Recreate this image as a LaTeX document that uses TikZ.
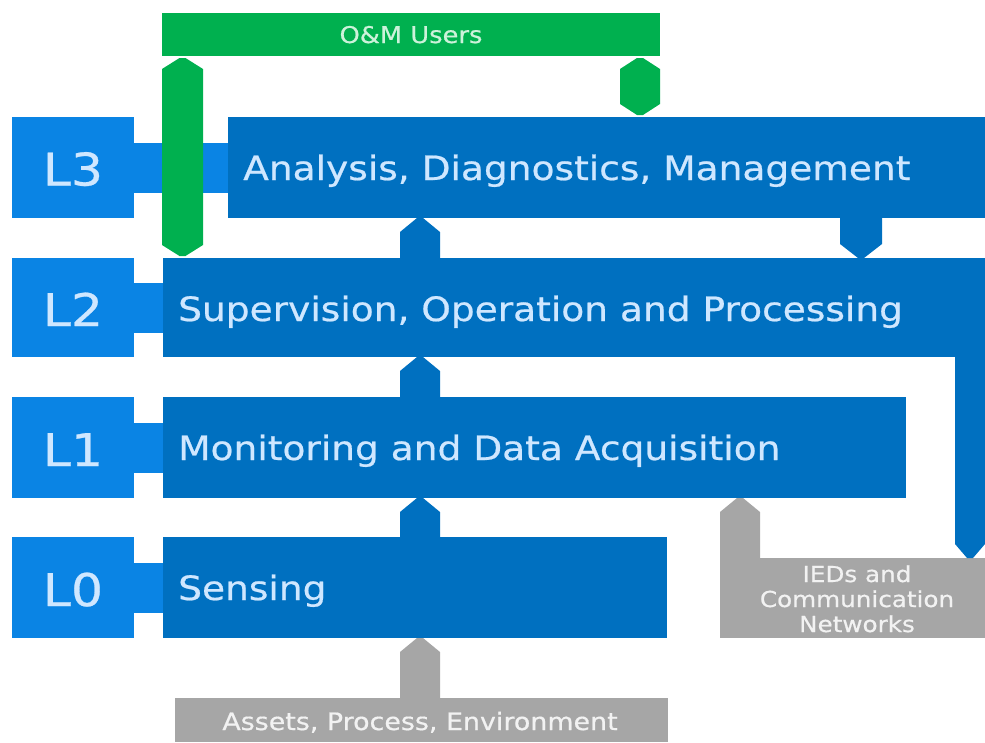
\documentclass[tikz,border=0pt]{standalone}
\usepackage{fontspec}
\setmainfont{DejaVu Sans}[FakeStretch=1.12, FakeBold=0.6]
\usetikzlibrary{calc}

\definecolor{mainblue}{HTML}{0070C0}
\definecolor{tagblue}{HTML}{0A84E4}
\definecolor{usergreen}{HTML}{00B04F}
\definecolor{softgray}{HTML}{A6A6A6}
\definecolor{paleblue}{HTML}{CFE7FF}
\definecolor{palegreen}{HTML}{CCF2DA}
\definecolor{palegray}{HTML}{F2F2F2}

% vertical link with a pointed end at the upper anchor
\newcommand\lvlup[5]{% style, centre x, half width, lower anchor, upper anchor
  \fill[#1] let \p1=(#4), \p2=(#5) in
    (#2pt-#3pt,\y1) -- (#2pt-#3pt,\y2-14pt) -- (#2pt-3pt,\y2) -- (#2pt+3pt,\y2)
    -- (#2pt+#3pt,\y2-14pt) -- (#2pt+#3pt,\y1) -- cycle;}
% vertical link with a pointed end at the lower anchor
\newcommand\lvldown[5]{% style, centre x, half width, upper anchor, lower anchor
  \fill[#1] let \p1=(#4), \p2=(#5) in
    (#2pt-#3pt,\y1) -- (#2pt-#3pt,\y2+14pt) -- (#2pt-3pt,\y2) -- (#2pt+3pt,\y2)
    -- (#2pt+#3pt,\y2+14pt) -- (#2pt+#3pt,\y1) -- cycle;}
% vertical link pointed at both ends
\newcommand\lvlboth[5]{% style, centre x, half width, upper anchor, lower anchor
  \fill[#1] let \p1=(#4), \p2=(#5) in
    (#2pt-3pt,\y1-2pt) -- (#2pt-#3pt,\y1-13pt) -- (#2pt-#3pt,\y2+13pt) -- (#2pt-3pt,\y2+2pt)
    -- (#2pt+3pt,\y2+2pt) -- (#2pt+#3pt,\y2+13pt) -- (#2pt+#3pt,\y1-13pt) -- (#2pt+3pt,\y1-2pt) -- cycle;}

\tikzset{
  box/.style={rectangle, inner sep=0pt, outer sep=0pt, anchor=north west},
  levelbox/.style={box, fill=mainblue},
  tagbox/.style={box, fill=tagblue, minimum width=122pt},
  tagtext/.style={anchor=base, inner sep=0pt, text=paleblue, font=\fontsize{45}{54}\selectfont},
  leveltext/.style={anchor=base west, inner sep=0pt, text=paleblue, font=\fontsize{33.5}{40}\selectfont},
  greybox/.style={box, fill=softgray},
}

\begin{document}
\begin{tikzpicture}[x=1pt, y=-1pt]
\useasboundingbox (0,0) rectangle (985,742);

% users bar
\node[box, fill=usergreen, minimum width=498pt, minimum height=43pt] (om) at (162,13) {};
\node[anchor=base, inner sep=0pt, text=palegreen, font=\fontsize{23}{28}\selectfont] (omtext) at (411,43) {O\&M Users};

% level tags and level boxes
\node[tagbox, minimum height=101pt] (tag3) at (12,117) {};
\node[levelbox, minimum width=757pt, minimum height=101pt] (l3) at (228,117) {};
\node[tagbox, minimum height=99pt] (tag2) at (12,258) {};
\node[levelbox, minimum width=822pt, minimum height=99pt] (l2) at (163,258) {};
\node[tagbox, minimum height=101pt] (tag1) at (12,397) {};
\node[levelbox, minimum width=743pt, minimum height=101pt] (l1) at (163,397) {};
\node[tagbox, minimum height=101pt] (tag0) at (12,537) {};
\node[levelbox, minimum width=504pt, minimum height=101pt] (l0) at (163,537) {};

% tag-to-level bridges
\foreach \i in {0,1,2,3}{
  \fill[tagblue] ($(tag\i.east)+(0,-25)$) rectangle ($(l\i.west)+(0,25)$);
}

% grey context boxes
\node[greybox, minimum width=265pt, minimum height=80pt] (ieds) at (720,558) {};
\node[greybox, minimum width=493pt, minimum height=44pt] (assets) at (175,698) {};

% links between layers
\lvlboth{usergreen}{182.5}{20.5}{om.south}{l2.north}
\lvlboth{usergreen}{640}{20}{om.south}{l3.north}
\lvlup{mainblue}{420}{20}{l2.north}{l3.south}
\lvldown{mainblue}{861}{21}{l3.south}{l2.north}
\lvlup{mainblue}{420}{20}{l1.north}{l2.south}
\lvlup{mainblue}{420}{20}{l0.north}{l1.south}
\lvlup{softgray}{420}{20}{assets.north}{l0.south}
\lvlup{softgray}{740}{20}{ieds.north}{l1.south}
\lvldown{mainblue}{970}{15}{l2.south}{ieds.north}

% labels
\node[tagtext] (t3) at (73,185.5) {L3};
\node[tagtext] (t2) at (73,326) {L2};
\node[tagtext] (t1) at (73,466) {L1};
\node[tagtext] (t0) at (73,606) {L0};

\node[leveltext] (x3) at (243,180) {Analysis, Diagnostics, Management};
\node[leveltext] (x2) at (178,321) {Supervision, Operation and Processing};
\node[leveltext] (x1) at (178,460) {Monitoring and Data Acquisition};
\node[leveltext] (x0) at (178,600) {Sensing};

\node[anchor=base, inner sep=0pt, text=palegray, font=\fontsize{24}{29}\selectfont] (assetstext) at (420,730) {Assets, Process, Environment};
\node[anchor=base, inner sep=0pt, text=palegray, align=center, font=\fontsize{22}{25}\selectfont] (iedstext) at (857,632) {IEDs and\\Communication\\Networks};
\end{tikzpicture}
\end{document}
